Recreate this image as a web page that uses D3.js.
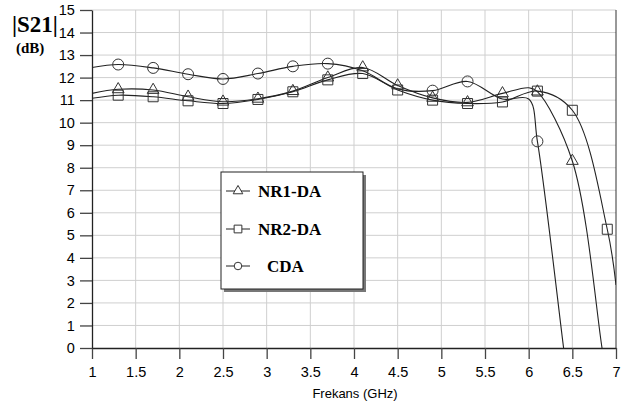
<!DOCTYPE html>
<html>
<head>
<meta charset="utf-8">
<script src="https://cdn.jsdelivr.net/npm/d3@7"></script>
<style>
  body { margin: 0; background: #fff; }
  svg { display: block; }
</style>
</head>
<body>
<script>
// values (GHz, dB)
let nr1Freq = [1.0, 1.3, 1.7, 2.1, 2.5, 2.9, 3.3, 3.7, 4.1, 4.5, 4.9, 5.3, 5.7, 6.0, 6.1, 6.5, 6.84, 6.9];
let nr1Gain = [11.3, 11.48, 11.45, 11.15, 10.93, 11.06, 11.4, 12.0, 12.45, 11.65, 11.1, 10.9, 11.3, 11.55, 11.38, 8.3, 0, -1.5];

let nr2Freq = [1.0, 1.3, 1.7, 2.1, 2.5, 2.9, 3.3, 3.7, 4.1, 4.5, 4.9, 5.3, 5.7, 6.1, 6.5, 6.9, 7.0];
let nr2Gain = [11.08, 11.22, 11.15, 10.97, 10.85, 11.03, 11.37, 11.9, 12.18, 11.45, 11.0, 10.85, 10.92, 11.4, 10.55, 5.27, 2.8];

let cdaFreq = [1.0, 1.3, 1.7, 2.1, 2.5, 2.9, 3.3, 3.7, 4.1, 4.5, 4.9, 5.3, 5.7, 6.0, 6.1, 6.4, 6.45];
let cdaGain = [12.45, 12.58, 12.43, 12.15, 11.94, 12.18, 12.5, 12.62, 12.3, 11.5, 11.42, 11.83, 11.05, 11.05, 9.17, 0, -1.5];

// where the symbols sit on each curve
let nr1Marks = [1.3, 1.7, 2.1, 2.5, 2.9, 3.3, 3.7, 4.1, 4.5, 4.9, 5.3, 5.7, 6.1, 6.5];
let nr2Marks = [1.3, 1.7, 2.1, 2.5, 2.9, 3.3, 3.7, 4.1, 4.5, 4.9, 5.3, 5.7, 6.1, 6.5, 6.9];
let cdaMarks = [1.3, 1.7, 2.1, 2.5, 2.9, 3.3, 3.7, 4.9, 5.3, 6.1];

let xTicks = [1, 1.5, 2, 2.5, 3, 3.5, 4, 4.5, 5, 5.5, 6, 6.5, 7];
let yTicks = d3.range(0, 16);
let legendNames = ["NR1-DA", "NR2-DA", "CDA"];

let width = 632;
let height = 406;

let svg = d3.select('body').append('svg')
            .attr('width', width)
            .attr('height', height);

let x = d3.scaleLinear().domain([1, 7]).range([92, 616]);
let y = d3.scaleLinear().domain([0, 15]).range([348, 10]);

// grid
svg.append("g").selectAll("line").data(yTicks.filter(d => d > 0))
   .join("line")
   .attr("x1", x(1)).attr("x2", x(7))
   .attr("y1", d => y(d)).attr("y2", d => y(d))
   .attr("stroke", "#cfcfcf");

svg.append("g").selectAll("line").data(xTicks.filter(d => d > 1 && d < 7))
   .join("line")
   .attr("x1", d => x(d)).attr("x2", d => x(d))
   .attr("y1", y(0)).attr("y2", y(15))
   .attr("stroke", "#cfcfcf");

// right border
svg.append("line").attr("x1", x(7)).attr("x2", x(7))
   .attr("y1", y(0)).attr("y2", y(15))
   .attr("stroke", "#333");

// axes
let xAxis = svg.append("g")
   .attr("transform", "translate(0," + y(0) + ")")
   .call(d3.axisBottom(x).tickValues(xTicks).tickSize(11).tickSizeOuter(0).tickFormat(d3.format("")));
let yAxis = svg.append("g")
   .attr("transform", "translate(" + x(1) + ",0)")
   .call(d3.axisLeft(y).tickValues(yTicks).tickSize(12).tickSizeOuter(0));

[xAxis, yAxis].forEach(a => {
  a.select(".domain").attr("stroke", "#222").attr("stroke-width", 1.3);
  a.selectAll(".tick line").attr("stroke", "#444").attr("stroke-width", 1.3);
  a.selectAll("text").attr("font-family", "Liberation Sans, Arial, sans-serif")
   .attr("font-size", 14.5).attr("fill", "#000");
});
xAxis.selectAll("text").attr("dy", "1.05em");
yAxis.selectAll("text").attr("dx", "-0.15em");

svg.append("text").attr("x", (x(1) + x(7)) / 2 + 1).attr("y", 398)
   .attr("text-anchor", "middle")
   .attr("font-family", "Liberation Sans, Arial, sans-serif")
   .attr("font-size", 13)
   .text("Frekans (GHz)");

// |S21| (dB)
svg.append("text").attr("x", 12).attr("y", 32)
   .attr("font-family", "Liberation Serif, Times New Roman, serif")
   .attr("font-weight", "bold").attr("font-size", 23)
   .text("|S21|");
svg.append("text").attr("x", 16).attr("y", 53)
   .attr("font-family", "Liberation Serif, Times New Roman, serif")
   .attr("font-weight", "bold").attr("font-size", 15)
   .text("(dB)");

// curves
svg.append("clipPath").attr("id", "plot")
   .append("rect").attr("x", x(1)).attr("y", y(15))
   .attr("width", x(7) - x(1)).attr("height", y(0) - y(15));

let line = d3.line().x(d => x(d[0])).y(d => y(d[1])).curve(d3.curveCatmullRom.alpha(0.5));

let series = [
  { freq: nr2Freq, gain: nr2Gain, marks: nr2Marks, sym: d3.symbolSquare, size: 100 },
  { freq: nr1Freq, gain: nr1Gain, marks: nr1Marks, sym: d3.symbolTriangle, size: 60 },
  { freq: cdaFreq, gain: cdaGain, marks: cdaMarks, sym: d3.symbolCircle, size: 95 }
];

let plot = svg.append("g").attr("clip-path", "url(#plot)");

series.forEach(s => {
  let pts = s.freq.map((f, i) => [f, s.gain[i]]);
  plot.append("path").attr("d", line(pts))
      .attr("fill", "none").attr("stroke", "#222").attr("stroke-width", 1.1);
});

series.forEach(s => {
  let pts = s.freq.map((f, i) => [f, s.gain[i]]).filter(p => s.marks.includes(p[0]));
  plot.append("g").selectAll("path").data(pts).join("path")
      .attr("d", d3.symbol().type(s.sym).size(s.size))
      .attr("transform", d => "translate(" + x(d[0]) + "," + y(d[1]) + ")")
      .attr("fill", "none").attr("stroke", "#333").attr("stroke-width", 1);
});

// legend
let lg = svg.append("g");
lg.append("rect").attr("x", 224).attr("y", 175).attr("width", 142).attr("height", 117).attr("fill", "#777");
lg.append("rect").attr("x", 221).attr("y", 172).attr("width", 142).attr("height", 117)
  .attr("fill", "#fff").attr("stroke", "#222").attr("stroke-width", 1);

let legendY = [191, 229, 266];
let legendSym = [d3.symbolTriangle, d3.symbolSquare, d3.symbolCircle];
let legendSize = [40, 60, 45];
let legendX = [258, 258, 267];
legendNames.forEach((name, i) => {
  lg.append("line").attr("x1", 226).attr("x2", 250)
    .attr("y1", legendY[i]).attr("y2", legendY[i]).attr("stroke", "#222");
  lg.append("path").attr("d", d3.symbol().type(legendSym[i]).size(legendSize[i]))
    .attr("transform", "translate(238," + legendY[i] + ")")
    .attr("fill", "#fff").attr("stroke", "#333");
  lg.append("text").attr("x", legendX[i]).attr("y", legendY[i] + 6)
    .attr("font-family", "Liberation Serif, Times New Roman, serif")
    .attr("font-weight", "bold").attr("font-size", 17)
    .text(name);
});
</script>
</body>
</html>
